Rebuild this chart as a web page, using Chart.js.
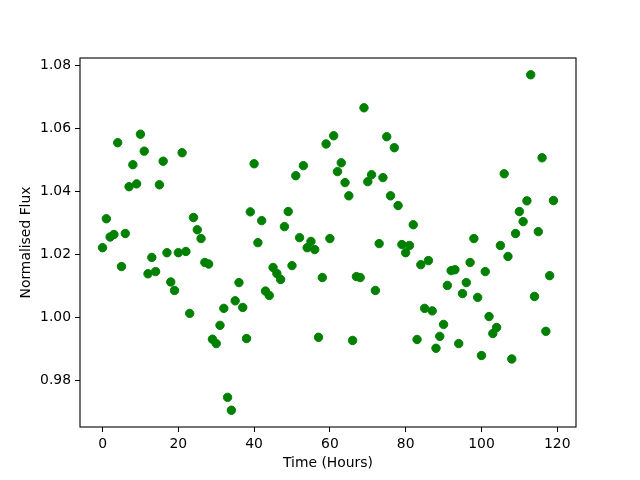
<!DOCTYPE html>
<html>
<head>
<meta charset="utf-8">
<script src="https://cdn.jsdelivr.net/npm/chart.js@4/dist/chart.umd.min.js"></script>
<style>
html,body{margin:0;padding:0;background:#fff;}
#wrap{width:640px;height:480px;}
</style>
</head>
<body>
<div id="wrap"><canvas id="c" width="640" height="480"></canvas></div>
<script>
const hours = [0,1,2,3,4,5,6,7,8,9,10,11,12,13,14,15,16,17,18,19,
  20,21,22,23,24,25,26,27,28,29,30,31,32,33,34,35,36,37,38,39,
  40,41,42,43,44,45,46,47,48,49,50,51,52,53,54,55,56,57,58,59,
  60,61,62,63,64,65,66,67,68,69,70,71,72,73,74,75,76,77,78,79,
  80,81,82,83,84,85,86,87,88,89,90,91,92,93,94,95,96,97,98,99,
  100,101,102,103,104,105,106,107,108,109,110,111,112,113,114,115,116,117,118,119];

const flux = [1.0221,1.0313,1.0255,1.0263,1.0555,1.0161,1.0266,1.0415,1.0485,1.0424,
  1.0582,1.0528,1.0138,1.0190,1.0145,1.0421,1.0496,1.0205,1.0112,1.0085,
  1.0205,1.0523,1.0209,1.0012,1.0317,1.0278,1.0250,1.0174,1.0169,0.9930,
  0.9916,0.9974,1.0028,0.9745,0.9704,1.0052,1.0110,1.0031,0.9932,1.0335,
  1.0488,1.0237,1.0307,1.0083,1.0069,1.0158,1.0139,1.0120,1.0288,1.0336,
  1.0164,1.0450,1.0253,1.0482,1.0221,1.0241,1.0215,0.9936,1.0126,1.0551,
  1.0250,1.0577,1.0463,1.0491,1.0428,1.0386,0.9926,1.0129,1.0126,1.0666,
  1.0431,1.0453,1.0085,1.0234,1.0444,1.0574,1.0386,1.0539,1.0355,1.0231,
  1.0205,1.0228,1.0294,0.9929,1.0167,1.0028,1.0180,1.0020,0.9901,0.9939,
  0.9977,1.0101,1.0148,1.0151,0.9916,1.0075,1.0110,1.0174,1.0250,1.0063,
  0.9878,1.0145,1.0002,0.9948,0.9967,1.0228,1.0456,1.0193,0.9867,1.0266,
  1.0336,1.0304,1.0370,1.0771,1.0066,1.0272,1.0507,0.9955,1.0132,1.0371];

const xTicks = [0,20,40,60,80,100,120];
const yTicks = [0.98,1.00,1.02,1.04,1.06,1.08];
const xLabel = 'Time (Hours)';
const yLabel = 'Normalised Flux';

const points = hours.map((h,i)=>({x:h,y:flux[i]}));

// matplotlib-like autoscale with 5% margins
const xmin0 = Math.min(...hours), xmax0 = Math.max(...hours);
const ymin0 = Math.min(...flux), ymax0 = Math.max(...flux);
const xm = (xmax0-xmin0)*0.05, ym = (ymax0-ymin0)*0.05;

const FONT = {family:'"DejaVu Sans", sans-serif', size:13.9, lineHeight:1.2};

const boxPlugin = {
  id:'box',
  afterDraw(chart){
    const {ctx, chartArea:a} = chart;
    ctx.save();
    ctx.strokeStyle = '#000';
    ctx.lineWidth = 1.1;
    ctx.strokeRect(a.left, a.top, a.right-a.left, a.bottom-a.top);
    ctx.restore();
  }
};

new Chart(document.getElementById('c'), {
  type:'scatter',
  data:{datasets:[{
    data:points,
    backgroundColor:'#008000',
    borderColor:'#008000',
    borderWidth:1,
    pointRadius:4.2,
    pointHoverRadius:4.2
  }]},
  options:{
    responsive:false,
    animation:false,
    events:[],
    layout:{padding:{left:0,top:58,right:64,bottom:0}},
    plugins:{legend:{display:false},tooltip:{enabled:false}},
    scales:{
      x:{
        type:'linear',
        min:xmin0-xm, max:xmax0+xm,
        afterFit(s){ s.height = 53; },
        afterBuildTicks(s){ s.ticks = xTicks.map(v=>({value:v})); },
        border:{display:false},
        grid:{display:true, drawOnChartArea:false, drawTicks:true, tickLength:5, color:'#000', lineWidth:1},
        ticks:{color:'#000', font:FONT, padding:4, maxRotation:0, autoSkip:false,
          callback:(v)=>String(v)},
        title:{display:true, text:xLabel, color:'#000', font:FONT, padding:{top:0,bottom:8.6}}
      },
      y:{
        type:'linear',
        min:ymin0-ym, max:ymax0+ym,
        afterFit(s){ s.width = 80; },
        afterBuildTicks(s){ s.ticks = yTicks.map(v=>({value:v})); },
        border:{display:false},
        grid:{display:true, drawOnChartArea:false, drawTicks:true, tickLength:5, color:'#000', lineWidth:1},
        ticks:{color:'#000', font:FONT, padding:4, autoSkip:false,
          callback:(v)=>Number(v).toFixed(2)},
        title:{display:true, text:yLabel, color:'#000', font:FONT, padding:{top:17.7,bottom:0}}
      }
    }
  },
  plugins:[boxPlugin]
});
</script>
</body>
</html>
